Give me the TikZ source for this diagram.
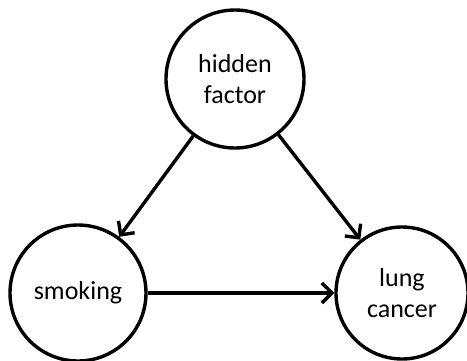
\documentclass[tikz,border=0pt]{standalone}
\usepackage{fontspec}
\setmainfont{Carlito}
\usetikzlibrary{arrows.meta}
\begin{document}
\begin{tikzpicture}[x=1pt,y=-1pt,
  var/.style={draw=black, line width=3.4pt, circle, minimum size=136pt, inner sep=0pt, align=center, font=\fontsize{26}{31}\selectfont},
  edge/.style={line width=3.4pt, -{Straight Barb[length=10pt,width=20pt,line width=3.4pt]}}]
\useasboundingbox (0,0) rectangle (467,360);
\node[var, minimum size=138pt] (h) at (235,79) {hidden\\factor};
\node[var] (s) at (78,293) {smoking};
\node[var, minimum size=132pt] (l) at (402,293) {lung\\cancer};
\draw[edge] (h) -- (s);
\draw[edge] (h) -- (l);
\draw[edge] (s) -- (l);
\end{tikzpicture}
\end{document}
